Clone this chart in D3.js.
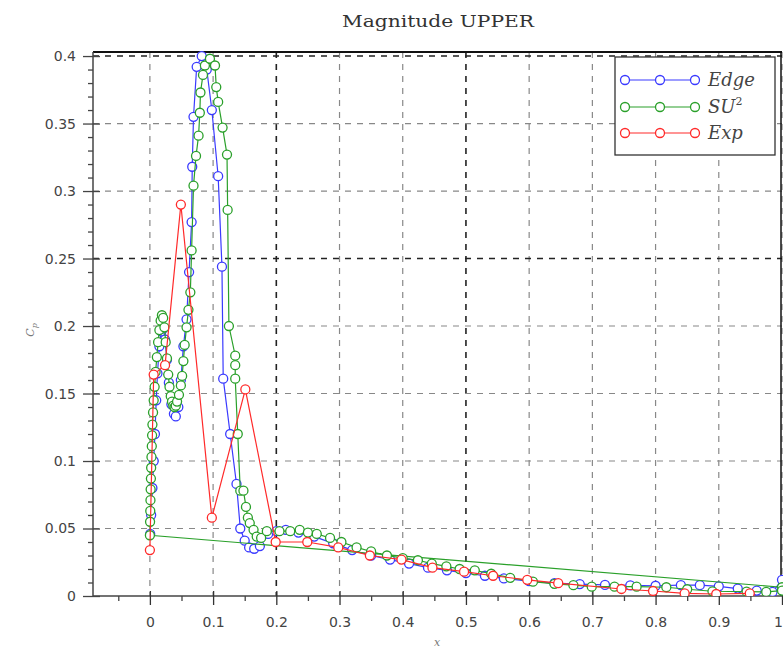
<!DOCTYPE html>
<html>
<head>
<meta charset="utf-8">
<script src="https://cdn.jsdelivr.net/npm/d3@7"></script>
<style>
  html, body { margin: 0; padding: 0; background: #fff; }
  svg { display: block; }
</style>
</head>
<body>
<svg id="chart" width="783" height="652"></svg>
<script>
// Pressure coefficient magnitude on the upper surface: Edge, SU2 and experiment.
const edgeX = [0.0005,0.002,0.004,0.006,0.008,0.010,0.012,0.015,0.018,0.021,0.024,0.027,0.030,0.034,0.038,0.041,0.045,0.049,0.053,0.058,0.062,0.066,0.067,0.069,0.074,0.082,0.090,0.098,0.108,0.114,0.116,0.127,0.137,0.143,0.150,0.157,0.165,0.174,0.187,0.200,0.215,0.235,0.26,0.29,0.32,0.35,0.38,0.41,0.44,0.47,0.50,0.53,0.56,0.60,0.64,0.68,0.72,0.76,0.80,0.84,0.87,0.90,0.93,0.96,0.985,1.0];
const edgeY = [0.046,0.06,0.08,0.10,0.12,0.145,0.165,0.185,0.196,0.198,0.19,0.175,0.158,0.142,0.135,0.133,0.14,0.16,0.185,0.205,0.24,0.277,0.318,0.355,0.392,0.400,0.39,0.360,0.311,0.244,0.161,0.12,0.083,0.050,0.041,0.036,0.035,0.037,0.046,0.048,0.049,0.047,0.044,0.039,0.034,0.030,0.027,0.024,0.021,0.019,0.017,0.015,0.013,0.011,0.0095,0.0088,0.0082,0.0078,0.0076,0.008,0.008,0.0072,0.0055,0.004,0.003,0.012];

const su2X = [1.0,0.0,0.0003,0.0006,0.0009,0.0012,0.0016,0.002,0.0025,0.003,0.0035,0.004,0.005,0.006,0.0075,0.009,0.011,0.013,0.015,0.017,0.019,0.021,0.023,0.025,0.027,0.029,0.031,0.033,0.035,0.037,0.039,0.041,0.043,0.046,0.049,0.051,0.053,0.055,0.058,0.061,0.064,0.066,0.069,0.073,0.077,0.079,0.080,0.084,0.087,0.095,0.103,0.105,0.108,0.115,0.122,0.123,0.125,0.135,0.135,0.135,0.139,0.143,0.148,0.152,0.155,0.158,0.164,0.169,0.176,0.185,0.205,0.222,0.237,0.250,0.264,0.285,0.303,0.327,0.350,0.375,0.400,0.424,0.446,0.469,0.490,0.514,0.540,0.570,0.606,0.64,0.67,0.699,0.735,0.77,0.817,0.85,0.89,0.944,0.975,1.0];
const su2Y = [0.0065,0.045,0.055,0.063,0.071,0.079,0.087,0.095,0.103,0.111,0.119,0.127,0.136,0.145,0.155,0.166,0.177,0.188,0.197,0.204,0.208,0.206,0.199,0.188,0.176,0.164,0.155,0.148,0.144,0.141,0.140,0.141,0.144,0.149,0.156,0.163,0.174,0.186,0.199,0.212,0.225,0.256,0.304,0.326,0.341,0.358,0.373,0.386,0.393,0.398,0.393,0.377,0.366,0.347,0.327,0.286,0.2,0.178,0.171,0.161,0.12,0.078,0.078,0.066,0.058,0.054,0.049,0.044,0.043,0.048,0.048,0.048,0.049,0.047,0.046,0.043,0.040,0.036,0.033,0.030,0.028,0.0265,0.024,0.022,0.020,0.019,0.0165,0.0135,0.0106,0.009,0.008,0.0069,0.0069,0.0069,0.0065,0.005,0.0035,0.0032,0.003,0.004];

const expX = [0.0,0.006,0.024,0.049,0.098,0.151,0.199,0.249,0.298,0.348,0.398,0.447,0.497,0.543,0.597,0.646,0.746,0.796,0.846,0.896,0.949];
const expY = [0.034,0.164,0.171,0.290,0.058,0.153,0.040,0.040,0.036,0.030,0.027,0.021,0.018,0.015,0.012,0.0095,0.0052,0.0037,0.002,0.0015,0.002];

const xTicks = [0,0.1,0.2,0.3,0.4,0.5,0.6,0.7,0.8,0.9,1];
const xMinor = [-0.05,0.05,0.15,0.25,0.35,0.45,0.55,0.65,0.75,0.85,0.95];
const yTicks = [0,0.05,0.1,0.15,0.2,0.25,0.3,0.35,0.4];
const yTickLabels = ["0","0.05","0.1","0.15","0.2","0.25","0.3","0.35","0.4"];
const yMinor = d3.range(0, 41).map(i => i / 100).filter(v => Math.round(v * 100) % 5 !== 0);

const seriesNames = ["Edge", "SU2", "Exp"];
const seriesColors = ["#3a3aff", "#2aa02a", "#ff2a2a"];

const series = [
  { name: seriesNames[0], color: seriesColors[0], pts: edgeX.map((v, i) => [v, edgeY[i]]) },
  { name: seriesNames[1], color: seriesColors[1], pts: su2X.map((v, i) => [v, su2Y[i]]) },
  { name: seriesNames[2], color: seriesColors[2], pts: expX.map((v, i) => [v, expY[i]]) }
];

const svg = d3.select("#chart");
const plotL = 93, plotR = 782, plotT = 52, plotB = 596;

const x = d3.scaleLinear().domain([-0.09, 1.0]).range([plotL, plotR]);
const y = d3.scaleLinear().domain([0, 0.403]).range([plotB, plotT]);

// title
svg.append("text")
  .attr("x", 438).attr("y", 27)
  .attr("text-anchor", "middle")
  .attr("font-family", "'DejaVu Serif', 'Liberation Serif', serif")
  .attr("font-size", 17)
  .attr("textLength", 192)
  .attr("lengthAdjust", "spacingAndGlyphs")
  .attr("fill", "#333")
  .text("Magnitude UPPER");

// grid
const dark = new Set([0.2, 0.5]);
const darkY = new Set([0.25, 0.4]);
svg.append("g").selectAll("line").data(xTicks).join("line")
  .attr("x1", d => x(d)).attr("x2", d => x(d))
  .attr("y1", plotT).attr("y2", plotB)
  .attr("stroke", d => dark.has(d) ? "#222" : "#888")
  .attr("stroke-width", d => dark.has(d) ? 1.6 : 1.2)
  .attr("stroke-dasharray", "6,6");
svg.append("g").selectAll("line").data(yTicks.filter(d => d > 0)).join("line")
  .attr("x1", plotL).attr("x2", plotR)
  .attr("y1", d => y(d)).attr("y2", d => y(d))
  .attr("stroke", d => darkY.has(d) ? "#222" : "#888")
  .attr("stroke-width", d => darkY.has(d) ? 1.6 : 1.2)
  .attr("stroke-dasharray", "6,6");

// frame top and right
svg.append("line").attr("x1", plotL).attr("x2", plotR).attr("y1", plotT).attr("y2", plotT)
  .attr("stroke", "#111").attr("stroke-width", 2);
svg.append("line").attr("x1", plotR - 1).attr("x2", plotR - 1).attr("y1", plotT).attr("y2", plotB)
  .attr("stroke", "#111").attr("stroke-width", 1.5);

const tickFont = "'DejaVu Sans', sans-serif";

// y axis
const yAxis = svg.append("g").attr("transform", `translate(${plotL},0)`)
  .call(d3.axisLeft(y).tickValues(yTicks).tickSizeInner(10).tickSizeOuter(0).tickPadding(7)
    .tickFormat((d, i) => yTickLabels[i]));
yAxis.select(".domain").attr("stroke", "#444").attr("stroke-width", 1.5).attr("d", `M0,${plotB}V${plotT}`);
yAxis.selectAll(".tick line").attr("x1", 7).attr("stroke", "#444").attr("stroke-width", 1.3);
yAxis.selectAll(".tick text").attr("font-family", tickFont).attr("font-size", 14).attr("fill", "#444");
svg.append("g").attr("transform", `translate(${plotL},0)`)
  .call(d3.axisLeft(y).tickValues(yMinor).tickSize(5).tickFormat(""))
  .call(g => g.select(".domain").remove())
  .selectAll("line").attr("stroke", "#444").attr("stroke-width", 1.3);

// x axis
const xAxis = svg.append("g").attr("transform", `translate(0,${plotB})`)
  .call(d3.axisBottom(x).tickValues(xTicks).tickSizeInner(9).tickSizeOuter(0).tickPadding(12)
    .tickFormat(d3.format("")));
xAxis.select(".domain").attr("stroke", "#444").attr("stroke-width", 1.5).attr("d", `M${plotL},0H${plotR}`);
xAxis.selectAll(".tick line").attr("y1", -5).attr("stroke", "#333").attr("stroke-width", 1.3);
xAxis.selectAll(".tick text").attr("font-family", tickFont).attr("font-size", 14).attr("fill", "#444")
  .attr("dx", d => d === 1 ? -4 : 0);
svg.append("g").attr("transform", `translate(0,${plotB})`)
  .call(d3.axisBottom(x).tickValues(xMinor).tickSize(5).tickFormat(""))
  .call(g => g.select(".domain").remove())
  .selectAll("line").attr("stroke", "#444").attr("stroke-width", 1.3);

// axis titles
svg.append("text")
  .attr("transform", "translate(34,330) rotate(-90)")
  .attr("text-anchor", "middle")
  .attr("font-family", "'DejaVu Serif', serif")
  .attr("font-style", "italic")
  .attr("font-size", 11)
  .attr("fill", "#777")
  .call(t => {
    t.append("tspan").text("C");
    t.append("tspan").attr("dy", 3).attr("font-size", 8).text("p");
  });
svg.append("text")
  .attr("x", 437).attr("y", 646)
  .attr("text-anchor", "middle")
  .attr("font-family", "'DejaVu Serif', serif")
  .attr("font-style", "italic")
  .attr("font-size", 11)
  .attr("fill", "#777")
  .text("x");

// data
svg.append("defs").append("clipPath").attr("id", "plotclip")
  .append("rect").attr("x", plotL).attr("y", plotT - 6).attr("width", plotR - plotL + 6).attr("height", plotB - plotT + 6);

const line = d3.line().x(d => x(d[0])).y(d => y(d[1]));
const plot = svg.append("g").attr("clip-path", "url(#plotclip)");

series.forEach(s => {
  const g = plot.append("g");
  g.append("path").attr("d", line(s.pts))
    .attr("fill", "none").attr("stroke", s.color).attr("stroke-width", 1.2);
  g.selectAll("circle").data(s.pts).join("circle")
    .attr("cx", d => x(d[0])).attr("cy", d => y(d[1])).attr("r", 4.5)
    .attr("fill", "#fff").attr("stroke", s.color).attr("stroke-width", 1.3);
});

// legend
const lg = svg.append("g");
lg.append("rect").attr("x", 615).attr("y", 57).attr("width", 160).attr("height", 98)
  .attr("fill", "#fff").attr("stroke", "#333").attr("stroke-width", 1.3);
const legendRows = [80, 107, 133];
series.forEach((s, i) => {
  const ly = legendRows[i];
  lg.append("line").attr("x1", 625).attr("x2", 695).attr("y1", ly).attr("y2", ly)
    .attr("stroke", s.color).attr("stroke-width", 1.2);
  [625, 660, 695].forEach(cx => {
    lg.append("circle").attr("cx", cx).attr("cy", ly).attr("r", 4.5)
      .attr("fill", "#fff").attr("stroke", s.color).attr("stroke-width", 1.3);
  });
  const t = lg.append("text").attr("x", 708).attr("y", ly + 6)
    .attr("font-family", "'DejaVu Serif', serif").attr("font-style", "italic")
    .attr("font-size", 18).attr("fill", "#444");
  if (s.name === "SU2") {
    t.append("tspan").text("SU");
    t.append("tspan").attr("dy", -8).attr("font-size", 11).attr("font-style", "normal").text("2");
  } else {
    t.text(s.name);
  }
});
</script>
</body>
</html>
